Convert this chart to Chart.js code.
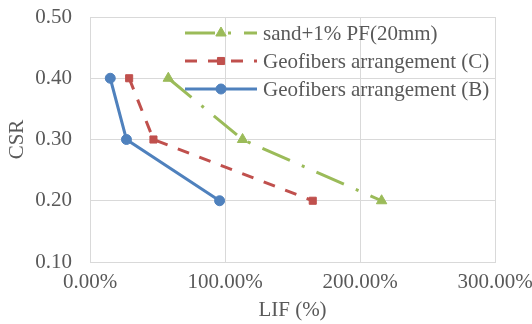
<!DOCTYPE html>
<html>
<head>
<meta charset="utf-8">
<script src="https://cdn.jsdelivr.net/npm/chart.js@4.4.0/dist/chart.umd.min.js"></script>
<style>
  html, body { margin: 0; padding: 0; background: #fff; }
  #wrap { width: 532px; height: 324px; }
</style>
</head>
<body>
<div id="wrap"><canvas id="csrChart" width="532" height="324"></canvas></div>
<script>
// data
const csrLevels = [0.40, 0.30, 0.20];
const lifSand = [58, 113, 216];      // sand+1% PF(20mm)
const lifGeoC = [29, 47, 165];       // Geofibers arrangement (C)
const lifGeoB = [15, 27, 96];        // Geofibers arrangement (B)
const seriesNames = ['sand+1% PF(20mm)', 'Geofibers arrangement (C)', 'Geofibers arrangement (B)'];
const xTicks = [0, 100, 200, 300];
const yTicks = [0.10, 0.20, 0.30, 0.40, 0.50];

const serif = "'Liberation Serif', 'Times New Roman', serif";
const textGrey = '#595959';
const gridGrey = '#d9d9d9';
const fontSize = 21;

const toPoints = (xs) => xs.map((x, i) => ({ x: x, y: csrLevels[i] }));

// legend drawn inside the plot area, top right
const insideLegend = {
  id: 'insideLegend',
  afterDatasetsDraw(chart) {
    const ctx = chart.ctx;
    const x0 = 185, x1 = 257, textX = 263;
    const rows = [33, 61, 89];
    chart.data.datasets.forEach((ds, i) => {
      const y = rows[i];
      ctx.save();
      ctx.strokeStyle = ds.borderColor;
      ctx.lineWidth = ds.borderWidth;
      ctx.setLineDash(ds.borderDash || []);
      ctx.beginPath();
      ctx.moveTo(x0, y);
      ctx.lineTo(x1, y);
      ctx.stroke();
      ctx.setLineDash([]);
      ctx.fillStyle = ds.backgroundColor;
      ctx.strokeStyle = ds.borderColor;
      ctx.lineWidth = 1;
      Chart.helpers.drawPoint(ctx, {
        pointStyle: ds.pointStyle,
        radius: ds.pointRadius,
        rotation: 0,
        borderWidth: 1
      }, (x0 + x1) / 2, y);
      ctx.fillStyle = textGrey;
      ctx.font = fontSize + 'px ' + serif;
      ctx.textBaseline = 'middle';
      ctx.textAlign = 'left';
      ctx.fillText(ds.label, textX, y + 1);
      ctx.restore();
    });
  }
};

const datasets = [
  {
    label: seriesNames[0],
    data: toPoints(lifSand),
    borderColor: '#9bbb59',
    backgroundColor: '#9bbb59',
    borderWidth: 3,
    borderDash: [30, 13, 3, 13],
    pointStyle: 'triangle',
    pointRadius: 6
  },
  {
    label: seriesNames[1],
    data: toPoints(lifGeoC),
    borderColor: '#c0504d',
    backgroundColor: '#c0504d',
    borderWidth: 3,
    borderDash: [12, 11],
    pointStyle: 'rect',
    pointRadius: 5
  },
  {
    label: seriesNames[2],
    data: toPoints(lifGeoB),
    borderColor: '#4f81bd',
    backgroundColor: '#4f81bd',
    borderWidth: 3,
    pointStyle: 'circle',
    pointRadius: 5
  }
];
datasets.forEach(ds => { ds.pointBorderWidth = 1; ds.tension = 0; });

new Chart(document.getElementById('csrChart'), {
  type: 'line',
  data: { datasets: datasets },
  options: {
    responsive: false,
    animation: false,
    layout: { padding: { top: 17, right: 37, left: 0, bottom: 0 } },
    plugins: {
      legend: { display: false },
      tooltip: { enabled: false }
    },
    scales: {
      x: {
        type: 'linear',
        min: 0,
        max: 300,
        afterBuildTicks: (axis) => { axis.ticks = xTicks.map(v => ({ value: v })); },
        afterFit: (axis) => {
          axis.height = 62;
          axis.paddingLeft = 0;
          axis.paddingRight = 0;
        },
        grid: { color: gridGrey, lineWidth: 1, drawTicks: false },
        border: { color: gridGrey },
        ticks: {
          padding: 8,
          maxRotation: 0,
          color: textGrey,
          font: { family: serif, size: fontSize },
          callback: (v) => v.toFixed(2) + '%'
        },
        title: {
          display: true,
          text: 'LIF (%)',
          color: textGrey,
          font: { family: serif, size: fontSize },
          padding: { top: 0, bottom: 1 }
        }
      },
      y: {
        min: 0.10,
        max: 0.50,
        afterBuildTicks: (axis) => { axis.ticks = yTicks.map(v => ({ value: v })); },
        afterFit: (axis) => {
          axis.width = 90;
          axis.paddingTop = 0;
          axis.paddingBottom = 0;
        },
        grid: { color: gridGrey, lineWidth: 1, drawTicks: false },
        border: { color: gridGrey },
        ticks: {
          padding: 18,
          color: textGrey,
          font: { family: serif, size: fontSize },
          callback: (v) => v.toFixed(2)
        },
        title: {
          display: true,
          text: 'CSR',
          color: textGrey,
          font: { family: serif, size: fontSize },
          padding: { top: 5, bottom: 0 }
        }
      }
    }
  },
  plugins: [insideLegend]
});
</script>
</body>
</html>
